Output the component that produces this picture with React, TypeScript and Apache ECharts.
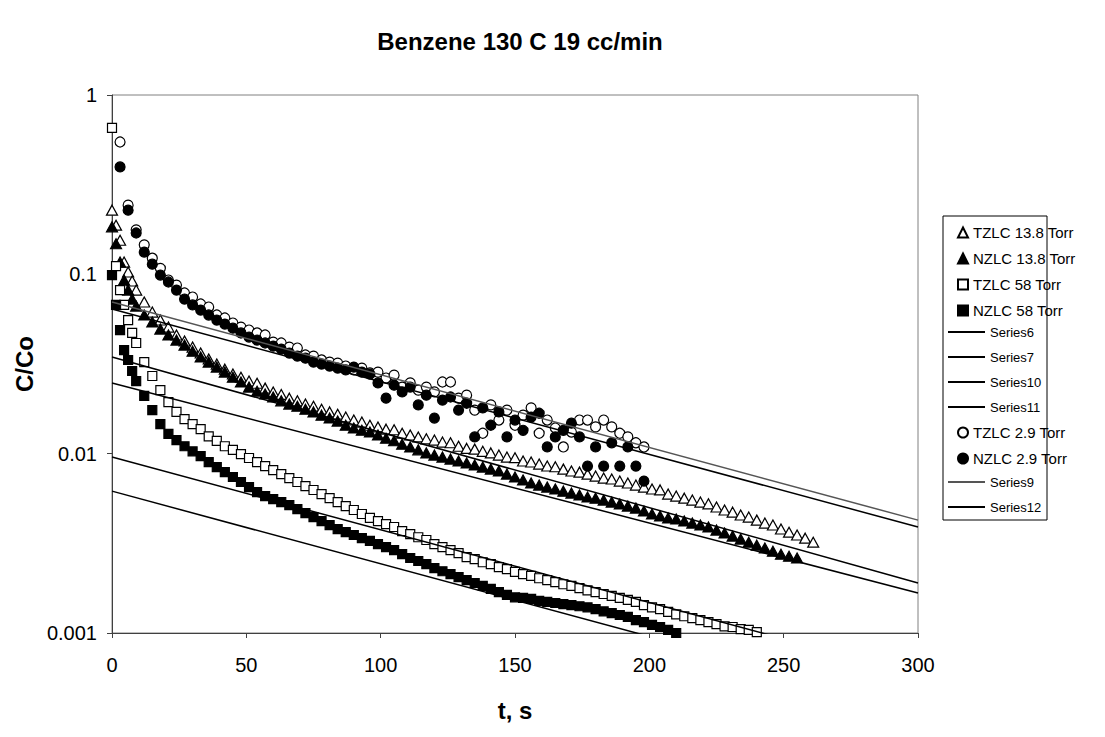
import React, { useEffect, useRef } from 'react';
import * as echarts from 'echarts';

const titleText = 'Benzene 130 C 19 cc/min';
const xName = 't, s';
const yName = 'C/Co';
const yTickLabels = ['0.001', '0.01', '0.1', '1'];
const xMin = 0;
const xMax = 300;
const xStep = 50;

// [t (s), C/Co]
const tzlc138: [number, number][] = [
  [0,0.228],[1.5,0.188],[3,0.155],[4.5,0.117],[6,0.103],[7.5,0.0918],[9,0.0817],[12,0.0701],[15,0.0616],[18,0.0556],
  [21,0.0508],[24,0.0459],[27,0.0425],[30,0.0393],[33,0.0364],[36,0.0337],[39,0.0316],[42,0.0296],[45,0.0278],[48,0.0267],
  [51,0.0254],[54,0.0247],[57,0.0232],[60,0.0221],[63,0.0214],[66,0.0204],[69,0.0197],[72,0.0189],[75,0.0184],[78,0.0177],
  [81,0.0171],[84,0.0166],[87,0.0160],[90,0.0154],[93,0.0150],[96,0.0144],[99,0.0141],[102,0.0137],[105,0.0136],[108,0.0130],
  [111,0.0127],[114,0.0124],[117,0.0121],[120,0.0119],[123,0.0116],[126,0.0115],[129,0.0110],[132,0.0107],[135,0.0106],[138,0.0103],
  [141,0.0101],[144,0.00982],[147,0.00957],[150,0.00950],[153,0.00910],[156,0.00898],[159,0.00875],[162,0.00853],[165,0.00845],[168,0.00820],
  [171,0.00800],[174,0.00789],[177,0.00769],[180,0.00750],[183,0.00731],[186,0.00722],[189,0.00703],[192,0.00686],[195,0.00668],[198,0.00651],
  [201,0.00635],[204,0.00628],[207,0.00595],[210,0.00580],[213,0.00565],[216,0.00551],[219,0.00537],[222,0.00525],[225,0.00504],[228,0.00485],
  [231,0.00472],[234,0.00455],[237,0.00443],[240,0.00426],[243,0.00410],[246,0.00400],[249,0.00380],[252,0.00365],[255,0.00352],[258,0.00338],
  [261,0.00321]
];

const nzlc138: [number, number][] = [
  [0,0.184],[1.5,0.148],[3,0.117],[4.5,0.0929],[6,0.0817],[7.5,0.0728],[9,0.0665],[12,0.0593],[15,0.0542],[18,0.0495],
  [21,0.0459],[24,0.0430],[27,0.0403],[30,0.0373],[33,0.0346],[36,0.0324],[39,0.0304],[42,0.0285],[45,0.0267],[48,0.0251],
  [51,0.0235],[54,0.0223],[57,0.0215],[60,0.0207],[63,0.0197],[66,0.0189],[69,0.0184],[72,0.0177],[75,0.0171],[78,0.0164],
  [81,0.0158],[84,0.0152],[87,0.0144],[90,0.0139],[93,0.0135],[96,0.0132],[99,0.0127],[102,0.0122],[105,0.0118],[108,0.0113],
  [111,0.0109],[114,0.0105],[117,0.0101],[120,0.00982],[123,0.00957],[126,0.00933],[129,0.00910],[132,0.00887],[135,0.00864],[138,0.00842],
  [141,0.00820],[144,0.00800],[147,0.00769],[150,0.00741],[153,0.00713],[156,0.00686],[159,0.00668],[162,0.00651],[165,0.00635],[168,0.00618],
  [171,0.00603],[174,0.00588],[177,0.00573],[180,0.00565],[183,0.00551],[186,0.00537],[189,0.00524],[192,0.00510],[195,0.00497],[198,0.00479],
  [201,0.00461],[204,0.00449],[207,0.00438],[210,0.00432],[213,0.00421],[216,0.00410],[219,0.00400],[222,0.00390],[225,0.00375],[228,0.00361],
  [231,0.00347],[234,0.00334],[237,0.00321],[240,0.00309],[243,0.00298],[246,0.00286],[249,0.00275],[252,0.00268],[255,0.00262]
];

const tzlc58: [number, number][] = [
  [0,0.655],[1.5,0.111],[3,0.0817],[4.5,0.0675],[6,0.0556],[7.5,0.0471],[9,0.0414],[12,0.0324],[15,0.0271],[18,0.0226],
  [21,0.0194],[24,0.0171],[27,0.0156],[30,0.0146],[33,0.0137],[36,0.0125],[39,0.0118],[42,0.0110],[45,0.0105],[48,0.00995],
  [51,0.00946],[54,0.00898],[57,0.00853],[60,0.00810],[63,0.00769],[66,0.00731],[69,0.00695],[72,0.00659],[75,0.00627],[78,0.00595],
  [81,0.00565],[84,0.00537],[87,0.00510],[90,0.00485],[93,0.00461],[96,0.00438],[99,0.00421],[102,0.00405],[105,0.00390],[108,0.00370],
  [111,0.00356],[114,0.00342],[117,0.00330],[120,0.00313],[123,0.00301],[126,0.00290],[129,0.00279],[132,0.00265],[135,0.00258],[138,0.00248],
  [141,0.00242],[144,0.00233],[147,0.00227],[150,0.00219],[153,0.00213],[156,0.00208],[159,0.00202],[162,0.00197],[165,0.00192],[168,0.00187],
  [171,0.00183],[174,0.00178],[177,0.00173],[180,0.00169],[183,0.00165],[186,0.00161],[189,0.00157],[192,0.00153],[195,0.00149],[198,0.00143],
  [201,0.00139],[204,0.00136],[207,0.00131],[210,0.00127],[213,0.00124],[216,0.00121],[219,0.00118],[222,0.00115],[225,0.00112],[228,0.00109],
  [231,0.00108],[234,0.00105],[237,0.00104],[240,0.00101]
];

const nzlc58: [number, number][] = [
  [0,0.0991],[1.5,0.0675],[3,0.0489],[4.5,0.0378],[6,0.0333],[7.5,0.0289],[9,0.0254],[12,0.0210],[15,0.0175],[18,0.0146],
  [21,0.0129],[24,0.0119],[27,0.0110],[30,0.0103],[33,0.00969],[36,0.00898],[39,0.00842],[42,0.00789],[45,0.00741],[48,0.00695],
  [51,0.00651],[54,0.00611],[57,0.00580],[60,0.00558],[63,0.00537],[66,0.00517],[69,0.00491],[72,0.00466],[75,0.00443],[78,0.00421],
  [81,0.00400],[84,0.00380],[87,0.00365],[90,0.00352],[93,0.00338],[96,0.00326],[99,0.00313],[102,0.00301],[105,0.00290],[108,0.00275],
  [111,0.00262],[114,0.00252],[117,0.00242],[120,0.00230],[123,0.00221],[126,0.00213],[129,0.00205],[132,0.00197],[135,0.00190],[138,0.00183],
  [141,0.00176],[144,0.00169],[147,0.00163],[150,0.00158],[153,0.00157],[156,0.00155],[159,0.00151],[162,0.00149],[165,0.00147],[168,0.00145],
  [171,0.00143],[174,0.00141],[177,0.00139],[180,0.00136],[183,0.00132],[186,0.00129],[189,0.00126],[192,0.00123],[195,0.00118],[198,0.00115],
  [201,0.00111],[204,0.00108],[207,0.00104],[210,0.00100]
];

const tzlc29: [number, number][] = [
  [3,0.547],[6,0.243],[9,0.177],[12,0.146],[15,0.123],[18,0.108],[21,0.0929],[24,0.0871],[27,0.0787],[30,0.0747],
  [33,0.0683],[36,0.0657],[39,0.0593],[42,0.0571],[45,0.0535],[48,0.0508],[51,0.0489],[54,0.0471],[57,0.0459],[60,0.0419],
  [63,0.0414],[66,0.0393],[69,0.0388],[72,0.0355],[75,0.0350],[78,0.0333],[81,0.0324],[84,0.0320],[87,0.0308],[90,0.0293],
  [93,0.0300],[96,0.0282],[99,0.0285],[102,0.0264],[105,0.0274],[108,0.0235],[111,0.0248],[114,0.0226],[117,0.0235],[120,0.0221],
  [123,0.0251],[126,0.0251],[129,0.0204],[132,0.0212],[135,0.0175],[138,0.0130],[141,0.0187],[144,0.0154],[147,0.0175],[150,0.0144],
  [153,0.0164],[156,0.0180],[159,0.0130],[162,0.0154],[165,0.0139],[168,0.0109],[171,0.0132],[174,0.0154],[177,0.0154],[180,0.0141],
  [183,0.0154],[186,0.0141],[189,0.0130],[192,0.0124],[195,0.0115],[198,0.0109]
];

const nzlc29: [number, number][] = [
  [3,0.397],[6,0.228],[9,0.170],[12,0.133],[15,0.114],[18,0.0991],[21,0.0906],[24,0.0817],[27,0.0728],[30,0.0675],
  [33,0.0632],[36,0.0593],[39,0.0556],[42,0.0528],[45,0.0501],[48,0.0471],[51,0.0447],[54,0.0430],[57,0.0414],[60,0.0398],
  [63,0.0383],[66,0.0364],[69,0.0350],[72,0.0341],[75,0.0324],[78,0.0316],[81,0.0308],[84,0.0300],[87,0.0293],[90,0.0304],
  [93,0.0285],[96,0.0278],[99,0.0248],[102,0.0204],[105,0.0241],[108,0.0221],[111,0.0235],[114,0.0187],[117,0.0212],[120,0.0158],
  [123,0.0199],[126,0.0207],[129,0.0175],[132,0.0191],[135,0.0124],[138,0.0180],[141,0.0144],[144,0.0171],[147,0.0124],[150,0.0154],
  [153,0.0135],[156,0.0160],[159,0.0168],[162,0.0109],[165,0.0124],[168,0.0135],[171,0.0148],[174,0.0124],[177,0.00853],[180,0.0109],
  [183,0.00853],[186,0.0115],[189,0.00853],[192,0.0109],[195,0.00853],[198,0.00703]
];

// fitted exponential lines: [t, C/Co] at both ends
const series6: [number, number][] = [[0, 0.0346], [300, 0.0019]];
const series7: [number, number][] = [[0, 0.0248], [300, 0.00167]];
const series10: [number, number][] = [[0, 0.00957], [300, 0.000582]];
const series11: [number, number][] = [[0, 0.00618], [300, 0.000376]];
const series9: [number, number][] = [[0, 0.0701], [300, 0.00426]];
const series12: [number, number][] = [[0, 0.064], [300, 0.0039]];

const FONT = '"Liberation Sans", Arial, sans-serif';
const NARROW = '"Liberation Sans Narrow", "Liberation Sans", Arial, sans-serif';

function scatter(name: string, data: [number, number][], symbol: string, size: number | number[], filled: boolean) {
  return {
    name,
    type: 'scatter',
    data,
    symbol,
    symbolSize: size,
    itemStyle: {
      color: filled ? '#000' : '#fff',
      borderColor: '#000',
      borderWidth: 1.2,
      opacity: 1,
    },
    emphasis: { disabled: true },
  };
}

function line(name: string, data: [number, number][], color: string) {
  return {
    name,
    type: 'line',
    data,
    symbol: 'none',
    showSymbol: false,
    clip: true,
    lineStyle: { color, width: 1.5 },
    itemStyle: { color },
    emphasis: { disabled: true },
  };
}

export default function App() {
  const ref = useRef<HTMLDivElement>(null);
  useEffect(() => {
    if (!ref.current) return;
    const chart = echarts.init(ref.current, null, { renderer: 'svg' });
    const markerLegend = (names: string[], top: number) => ({
      orient: 'vertical',
      left: 952,
      top,
      data: names,
      itemWidth: 10,
      itemHeight: 10,
      itemGap: 11,
      itemTextGap: 8,
      selectedMode: false,
      textStyle: { fontSize: 15, lineHeight: 14, fontFamily: NARROW, color: '#000' },
    });
    const lineLegend = (names: string[], top: number) => ({
      orient: 'vertical',
      left: 943,
      top,
      data: names,
      icon: 'rect',
      itemWidth: 37,
      itemHeight: 2,
      itemGap: 11,
      itemTextGap: 3,
      selectedMode: false,
      textStyle: { fontSize: 13, lineHeight: 14, fontFamily: FONT, color: '#000' },
    });
    chart.setOption({
      animation: false,
      backgroundColor: '#fff',
      title: {
        text: titleText,
        left: 515,
        top: 24,
        textAlign: 'center',
        textStyle: { fontSize: 24, fontWeight: 'bold', fontFamily: FONT, color: '#000' },
      },
      grid: {
        left: 112,
        right: 1105 - 918,
        top: 95,
        bottom: 737 - 633,
        show: true,
        borderColor: '#808080',
        borderWidth: 1,
        containLabel: false,
      },
      legend: [
        markerLegend(['TZLC 13.8 Torr', 'NZLC 13.8 Torr', 'TZLC 58 Torr', 'NZLC 58 Torr'], 220),
        lineLegend(['Series6', 'Series7', 'Series10', 'Series11'], 320),
        markerLegend(['TZLC 2.9 Torr', 'NZLC 2.9 Torr'], 420),
        lineLegend(['Series9', 'Series12'], 470),
      ],
      graphic: [
        {
          type: 'rect',
          shape: { x: 943, y: 216, width: 104, height: 304 },
          style: { fill: 'rgba(0,0,0,0)', stroke: '#000', lineWidth: 1 },
          silent: true,
        },
      ],
      xAxis: {
        type: 'value',
        min: xMin,
        max: xMax,
        interval: xStep,
        name: xName,
        nameLocation: 'middle',
        nameGap: 65,
        nameTextStyle: { fontSize: 24, fontWeight: 'bold', fontFamily: FONT, color: '#000' },
        axisLine: { show: true, onZero: false, lineStyle: { color: '#404040', width: 1 } },
        axisTick: { show: true, inside: false, length: 5, lineStyle: { color: '#404040' } },
        axisLabel: { fontSize: 20, fontFamily: FONT, color: '#000', margin: 22 },
        splitLine: { show: false },
      },
      yAxis: {
        type: 'log',
        logBase: 10,
        min: 0.001,
        max: 1,
        name: yName,
        nameLocation: 'middle',
        nameGap: 70,
        nameRotate: 90,
        nameTextStyle: { fontSize: 24, fontWeight: 'bold', fontFamily: FONT, color: '#000' },
        axisLine: { show: true, onZero: false, lineStyle: { color: '#404040', width: 1 } },
        axisTick: { show: true, inside: false, length: 5, lineStyle: { color: '#404040' } },
        minorTick: { show: false },
        axisLabel: {
          fontSize: 20,
          fontFamily: FONT,
          color: '#000',
          margin: 15,
          formatter: (v: number) => {
            const e = Math.round(Math.log10(v));
            return yTickLabels[e + 3] ?? '';
          },
        },
        splitLine: { show: false },
      },
      series: [
        scatter('TZLC 13.8 Torr', tzlc138, 'triangle', [11, 10], false),
        scatter('NZLC 13.8 Torr', nzlc138, 'triangle', [11, 10], true),
        scatter('TZLC 58 Torr', tzlc58, 'rect', 9, false),
        scatter('NZLC 58 Torr', nzlc58, 'rect', 9, true),
        line('Series6', series6, '#000'),
        line('Series7', series7, '#000'),
        line('Series10', series10, '#000'),
        line('Series11', series11, '#000'),
        scatter('TZLC 2.9 Torr', tzlc29, 'circle', 10, false),
        scatter('NZLC 2.9 Torr', nzlc29, 'circle', 10, true),
        line('Series9', series9, '#555'),
        line('Series12', series12, '#000'),
      ],
    });
    return () => chart.dispose();
  }, []);
  return (
    <div
      ref={ref}
      style={{ position: 'fixed', left: 0, top: 0, width: 1105, height: 737, background: '#fff' }}
    />
  );
}
